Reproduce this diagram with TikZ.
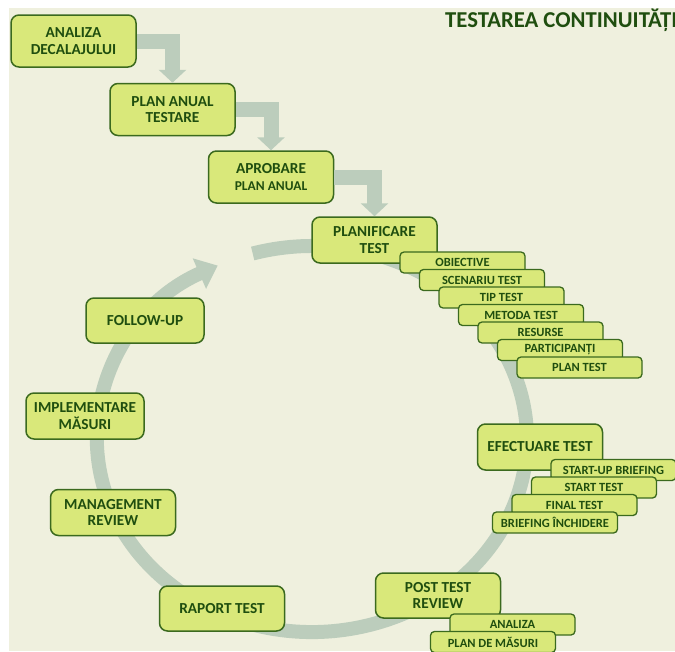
\documentclass[tikz,border=0pt]{standalone}
\usepackage{fontspec}
\setmainfont{Carlito}
\usetikzlibrary{positioning,arrows.meta}
\definecolor{paperbeige}{HTML}{EFF0DE}
\definecolor{boxfill}{HTML}{D9E87A}
\definecolor{boxline}{HTML}{3B6A1E}
\definecolor{boxtext}{HTML}{1F4E0F}
\definecolor{flowgray}{HTML}{BCCDBC}
\tikzset{stepnode/.style={rectangle, rounded corners=8pt, draw=boxline, fill=boxfill, line width=1.5pt, minimum width=125pt, minimum height=46pt, inner sep=2pt, align=center, text=boxtext, font=\bfseries\fontsize{15.3}{16.5}\selectfont},
subnode/.style={rectangle, rounded corners=4pt, draw=boxline, fill=boxfill, line width=1.3pt, minimum width=125pt, minimum height=21pt, inner sep=0pt, text=boxtext, font=\bfseries\fontsize{12.5}{13}\selectfont},
flowarrow/.style={draw=flowgray, line width=15pt, -{Triangle[width=27pt,length=13pt]}},}

\begin{document}
\begin{tikzpicture}[x=1pt, y=1pt]
\clip (0,0) rectangle (675,-651);
\fill[paperbeige] (9,-8) rectangle (675,-651);
% the big cycle
\draw[draw=flowgray, line width=14pt, -{Triangle[width=32pt,length=20pt]}] (252.7,-253.5) arc[start angle=106, end angle=-244, x radius=215pt, y radius=193pt];
\node[anchor=north west, inner sep=0pt, text=boxtext, font=\bfseries\fontsize{22.7}{23}\selectfont] (title) at (445,-9) {TESTAREA CONTINUITĂȚII};
% annual chain
\node[stepnode, minimum height=52pt] (analiza) at (73.5,-41) {ANALIZA\\DECALAJULUI};
\node[stepnode, minimum height=52pt] (plananual) at (172.5,-109.5) {PLAN ANUAL\\TESTARE};
\node[stepnode, minimum height=52pt] (aprobare) at (271,-177) {APROBARE\\{\fontsize{13.5}{14}\selectfont PLAN ANUAL}};
% planning
\node[stepnode] (planificare) at (374.5,-240) {PLANIFICARE\\TEST};
\node[subnode] (obiective) at (462.5,-262.5) {OBIECTIVE};
\node[subnode] (scenariu) at ([shift={(19.5,-17.5)}]obiective) {SCENARIU TEST};
\node[subnode] (tiptest) at ([shift={(19.5,-17.5)}]scenariu) {TIP TEST};
\node[subnode] (metoda) at ([shift={(19.5,-17.5)}]tiptest) {METODA TEST};
\node[subnode] (resurse) at ([shift={(19.5,-17.5)}]metoda) {RESURSE};
\node[subnode] (participanti) at ([shift={(19.5,-17.5)}]resurse) {PARTICIPANȚI};
\node[subnode] (plantest) at ([shift={(19.5,-17.5)}]participanti) {PLAN TEST};
% execution
\node[stepnode] (efectuare) at (540,-447) {EFECTUARE TEST};
\node[subnode] (startup) at (613.5,-470) {START-UP BRIEFING};
\node[subnode] (starttest) at ([shift={(-19.5,-17.5)}]startup) {START TEST};
\node[subnode] (finaltest) at ([shift={(-19.5,-17.5)}]starttest) {FINAL TEST};
\node[subnode] (briefing) at ([shift={(-19.5,-17.5)}]finaltest) {BRIEFING ÎNCHIDERE};
% review
\node[stepnode, minimum height=45pt] (posttest) at (438,-595.5) {POST TEST\\REVIEW};
\node[subnode] (analizapost) at (512.5,-624.5) {ANALIZA};
\node[subnode] (planmasuri) at ([shift={(-19.5,-17.5)}]analizapost) {PLAN DE MĂSURI};
\node[stepnode, minimum height=45pt] (raport) at (222,-608.5) {RAPORT TEST};
\node[stepnode] (management) at (113,-512.5) {MANAGEMENT\\REVIEW};
\node[stepnode, minimum width=118pt] (implementare) at (85,-416) {IMPLEMENTARE\\MĂSURI};
\node[stepnode, minimum width=118pt, minimum height=45pt] (followup) at (145,-320.5) {FOLLOW-UP};
% elbow arrows
\draw[flowarrow] (analiza.east) -| (plananual.north);
\draw[flowarrow] (plananual.east) -| (aprobare.north);
\draw[flowarrow] (aprobare.east) -| (planificare.north);
\end{tikzpicture}
\end{document}
